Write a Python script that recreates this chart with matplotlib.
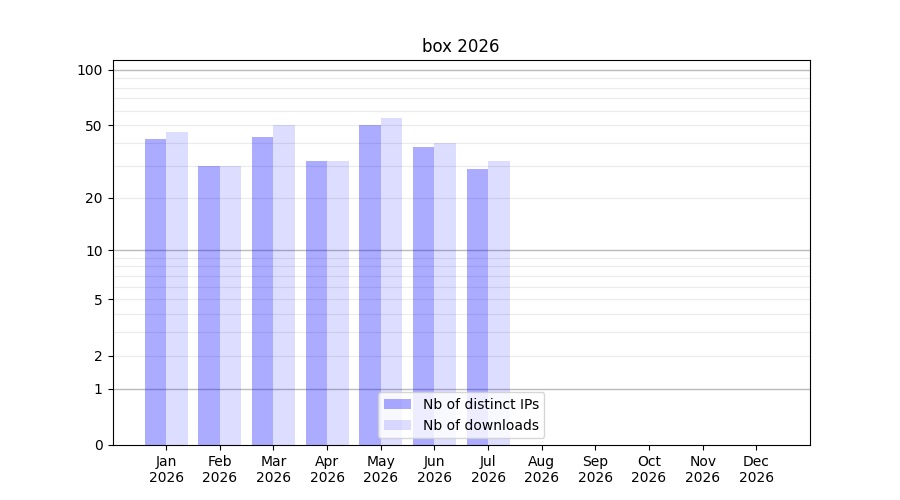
import numpy as np
import matplotlib
matplotlib.use('Agg')
import matplotlib.pyplot as plt
from matplotlib.ticker import FixedLocator

months = ['Jan', 'Feb', 'Mar', 'Apr', 'May', 'Jun', 'Jul', 'Aug', 'Sep', 'Oct', 'Nov', 'Dec']
year = '2026'
distinct_ips = [42, 30, 43, 32, 50, 38, 29]
downloads = [46, 30, 50, 32, 55, 40, 32]
y_ticks = [0, 1, 2, 5, 10, 20, 50, 100]


def fwd(v):
    return np.log10(1 + np.clip(v, 0, None))


def inv(t):
    return 10 ** t - 1


fig, ax = plt.subplots(figsize=(9, 5), dpi=100)
ax.set_yscale('function', functions=(fwd, inv))

x_ips = np.arange(len(distinct_ips))
x_dl = np.arange(len(downloads))
ax.bar(x_ips, distinct_ips, width=-0.4, align='edge', color='blue', alpha=0.33,
       label='Nb of distinct IPs', zorder=2)
ax.bar(x_dl, downloads, width=0.4, align='edge', color='blue', alpha=0.135,
       label='Nb of downloads', zorder=2)

ax.set_xticks(range(len(months)))
ax.set_xticklabels([m + '\n' + year for m in months])
ax.set_xlim(-1, 12)

ax.set_ylim(0, 113)
ax.yaxis.set_major_locator(FixedLocator(y_ticks))
ax.set_yticklabels([str(t) for t in y_ticks])
# grid: decades darker, the rest light
for d in [1, 10, 100]:
    ax.axhline(d, color='#bbbbbb', lw=1, zorder=1)
minor = list(range(2, 10)) + list(range(20, 100, 10))
for m in minor:
    ax.axhline(m, color='#ebebeb', lw=0.8, zorder=1)

ax.set_title('box 2026')
ax.legend(loc='lower center')
fig.savefig('out.png')
